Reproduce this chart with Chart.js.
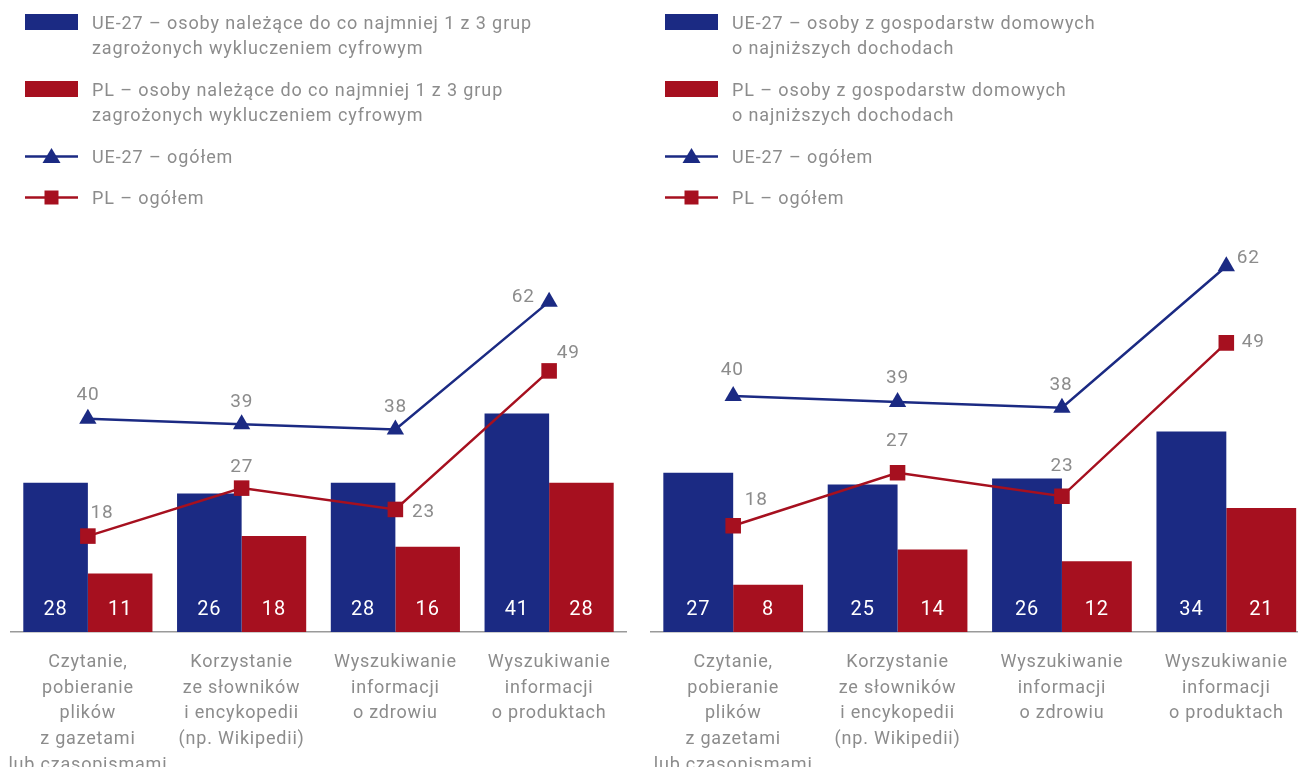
<!DOCTYPE html>
<html lang="pl">
<head>
<meta charset="utf-8">
<script src="https://cdn.jsdelivr.net/npm/chart.js@4/dist/chart.umd.min.js"></script>
<style>
  html, body { margin: 0; padding: 0; background: #fff; }
  body { width: 1298px; height: 767px; overflow: hidden; position: relative; font-family: Roboto, sans-serif; }
  canvas { position: absolute; top: 0; }
  .legend { position: absolute; top: 0; color: #8c8c8c; font-size: 18px; line-height: 25px; letter-spacing: 0.9px; }
  .item { position: absolute; left: 0; white-space: nowrap; }
  .item svg { position: absolute; left: 0; top: 0; }
  .item span { position: absolute; left: 67px; top: 0; }
</style>
</head>
<body>
<canvas id="left" width="640" height="767" style="left:0"></canvas>
<canvas id="right" width="680" height="767" style="left:640px"></canvas>
<div class="legend" id="legLeft" style="left:25px"></div>
<div class="legend" id="legRight" style="left:665px"></div>
<script>
const BLUE = '#1b2a83';
const RED = '#a6101f';
const GRAY = '#8c8c8c';

const categories = [
  ['Czytanie,', 'pobieranie', 'plików', 'z gazetami', 'lub czasopismami'],
  ['Korzystanie', 'ze słowników', 'i encykopedii', '(np. Wikipedii)'],
  ['Wyszukiwanie', 'informacji', 'o zdrowiu'],
  ['Wyszukiwanie', 'informacji', 'o produktach']
];

// lewy wykres – grupy zagrożone wykluczeniem cyfrowym
const ueGroups = [28, 26, 28, 41];
const plGroups = [11, 18, 16, 28];
// prawy wykres – gospodarstwa o najniższych dochodach
const ueLowIncome = [27, 25, 26, 34];
const plLowIncome = [8, 14, 12, 21];
// ogółem (oba wykresy)
const ueTotal = [40, 39, 38, 62];
const plTotal = [18, 27, 23, 49];

const leftLegend = [
  'UE-27 – osoby należące do co najmniej 1 z 3 grup<br>zagrożonych wykluczeniem cyfrowym',
  'PL – osoby należące do co najmniej 1 z 3 grup<br>zagrożonych wykluczeniem cyfrowym',
  'UE-27 – ogółem',
  'PL – ogółem'
];
const rightLegend = [
  'UE-27 – osoby z gospodarstw domowych<br>o najniższych dochodach',
  'PL – osoby z gospodarstw domowych<br>o najniższych dochodach',
  'UE-27 – ogółem',
  'PL – ogółem'
];

function buildLegend(el, texts) {
  const tops = [10, 77, 144, 185];
  const marks = [
    `<rect x="0" y="4" width="53" height="16" fill="${BLUE}"/>`,
    `<rect x="0" y="4" width="53" height="16" fill="${RED}"/>`,
    `<line x1="0" y1="12.5" x2="53" y2="12.5" stroke="${BLUE}" stroke-width="2.5"/><polygon points="26.5,4 35.5,19 17.5,19" fill="${BLUE}"/>`,
    `<line x1="0" y1="12.5" x2="53" y2="12.5" stroke="${RED}" stroke-width="2.5"/><rect x="19.5" y="5.5" width="14" height="14" fill="${RED}"/>`
  ];
  el.innerHTML = texts.map((t, i) =>
    `<div class="item" style="top:${tops[i]}px"><svg width="53" height="25">${marks[i]}</svg><span>${t}</span></div>`
  ).join('');
}
buildLegend(document.getElementById('legLeft'), leftLegend);
buildLegend(document.getElementById('legRight'), rightLegend);

// szersze litery, jak w oryginale (canvas resetuje stan, więc ustawiamy przed update i draw)
const spacing = {
  id: 'spacing',
  beforeUpdate(chart) { chart.ctx.letterSpacing = '0.8px'; },
  beforeDraw(chart) { chart.ctx.letterSpacing = '0.8px'; }
};

const valueLabels = {
  id: 'valueLabels',
  afterDatasetsDraw(chart) {
    const ctx = chart.ctx;
    const base = chart.scales.y.getPixelForValue(0);
    chart.data.datasets.forEach((ds, i) => {
      const meta = chart.getDatasetMeta(i);
      meta.data.forEach((el, j) => {
        ctx.save();
        ctx.textAlign = 'center';
        ctx.textBaseline = 'middle';
        if (ds.type === 'bar') {
          ctx.font = '20px Roboto';
          ctx.fillStyle = '#fff';
          ctx.fillText(ds.data[j], el.x, base - 22);
        } else {
          const off = ds.labelOffsets[j];
          ctx.font = '19px Roboto';
          ctx.fillStyle = GRAY;
          ctx.fillText(ds.data[j], el.x + off[0], el.y + off[1] + 2);
        }
        ctx.restore();
      });
    });
  }
};

function makeChart(id, ueBars, plBars, cfg) {
  return new Chart(document.getElementById(id), {
    type: 'bar',
    data: {
      labels: categories,
      datasets: [
        { type: 'line', data: ueTotal, borderColor: BLUE, backgroundColor: BLUE, borderWidth: 2.5,
          pointStyle: 'triangle', pointRadius: 10, pointBorderWidth: 0, order: 0, labelOffsets: cfg.ueOff },
        { type: 'line', data: plTotal, borderColor: RED, backgroundColor: RED, borderWidth: 2.5,
          pointStyle: 'rect', pointRadius: 11, pointBorderWidth: 0, order: 0, labelOffsets: cfg.plOff },
        { type: 'bar', data: ueBars, backgroundColor: BLUE, order: 1,
          categoryPercentage: cfg.catPct, barPercentage: 1 },
        { type: 'bar', data: plBars, backgroundColor: RED, order: 1,
          categoryPercentage: cfg.catPct, barPercentage: 1 }
      ]
    },
    options: {
      responsive: false,
      animation: false,
      layout: { padding: cfg.padding },
      plugins: { legend: { display: false }, tooltip: { enabled: false } },
      scales: {
        x: {
          grid: { display: false, drawTicks: false },
          border: { display: true, color: '#9a9a9a', width: 1.5 },
          ticks: { color: GRAY, font: { family: 'Roboto', size: 18, lineHeight: 1.42 },
                   padding: 18, autoSkip: false, maxRotation: 0, minRotation: 0 },
          afterFit: s => { s.height = 135; s.paddingLeft = 0; s.paddingRight = 0; }
        },
        y: { display: false, min: 0, max: 70 }
      }
    },
    plugins: [spacing, valueLabels]
  });
}

makeChart('left', ueGroups, plGroups, {
  catPct: 0.84,
  padding: { left: 10, right: 14, top: 259, bottom: 0 },
  ueOff: [[0, -26], [0, -24], [0, -24], [-26, -6]],
  plOff: [[14, -25], [0, -23], [28, 1], [19, -20]]
});

makeChart('right', ueLowIncome, plLowIncome, {
  catPct: 0.85,
  padding: { left: 8.5, right: 11.5, top: 219, bottom: 0 },
  ueOff: [[-1, -28], [0, -26], [-1, -25], [22, -10]],
  plOff: [[23, -28], [0, -33], [0, -32], [27, -3]]
});
</script>
</body>
</html>
